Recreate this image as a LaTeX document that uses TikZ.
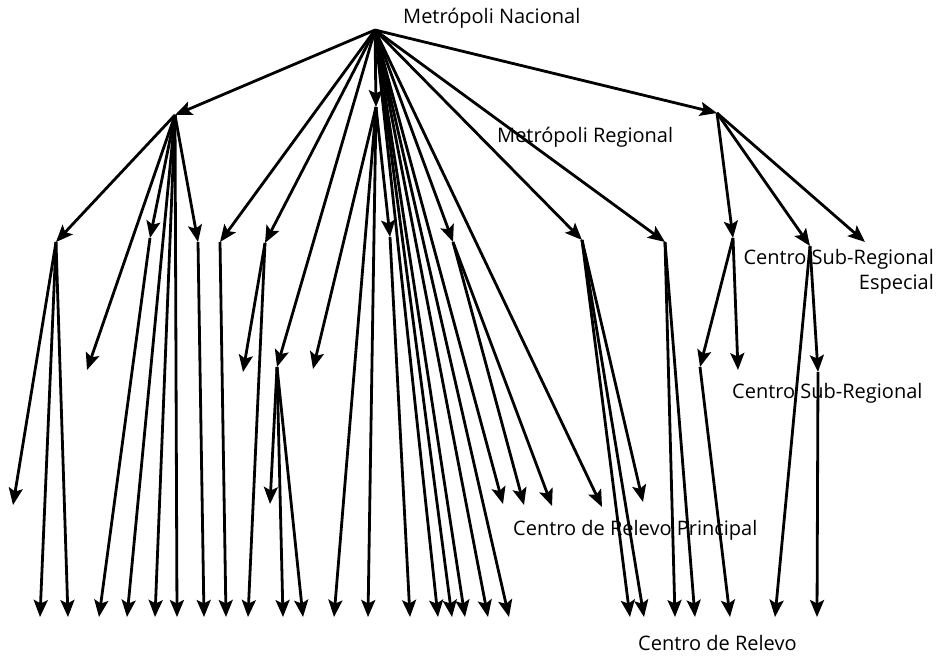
\documentclass[tikz,border=0pt]{standalone}
\usepackage{fontspec}
\setmainfont{Open Sans}
\usetikzlibrary{arrows.meta}
\begin{document}
\begin{tikzpicture}[x=1pt,y=-1pt,
  link/.style={line width=2.8pt, line join=round, -{Stealth[length=17pt,width=14pt,inset=3.5pt]}},
  lbl/.style={font=\fontsize{20}{25}\selectfont, inner sep=0pt, anchor=west}]
\useasboundingbox (0,0) rectangle (944,657);
% level 0 and 1
\coordinate (R) at (375,30);
\coordinate (A) at (175,115);
\coordinate (B) at (376,107);
\coordinate (C) at (717,113);
% level 2
\coordinate (D1) at (56,242);
\coordinate (D2) at (150,238);
\coordinate (D3) at (198,242);
\coordinate (N222) at (220,242);
\coordinate (N265) at (265,243);
\coordinate (N388) at (390,237);
\coordinate (N455) at (453,242);
\coordinate (N578) at (582,240);
\coordinate (N663) at (665,242);
\coordinate (N733) at (733,238);
\coordinate (N808) at (810,246);
\coordinate (S865) at (865,242);
% level 3 (sub-regional)
\coordinate (S87) at (87,370);
\coordinate (N278) at (277,367);
\coordinate (S243) at (243,372);
\coordinate (S315) at (313,369);
\coordinate (N700) at (700,367);
\coordinate (S738) at (738,370);
\coordinate (N818) at (818,372);
% relevo principal
\coordinate (P13) at (13,505);
\coordinate (P270) at (270,504);
\coordinate (P503) at (503,504);
\coordinate (P524) at (524,505);
\coordinate (P552) at (552,506);
\coordinate (P602) at (602,507);
\coordinate (P643) at (643,502);
% relevo
\foreach \x in {40,68,99,127,155,177,204,226,248,283,303,334,368,410,438,452,465,488,509,630,644,675,695,730,775,817}
  \coordinate (L\x) at (\x,617);
% connectors
\foreach \p/\c in {R/A,R/B,R/C,R/N222,R/N265,R/N278,R/N455,R/N578,R/N663,
  R/L438,R/L452,R/L465,R/L488,R/L509,R/P503,R/P602,
  B/N388,B/S315,B/L334,B/L368,
  A/D1,A/D2,A/D3,A/S87,A/L127,A/L155,A/L177,
  D1/P13,D1/L40,D1/L68,D2/L99,D3/L204,N222/L226,
  N265/S243,N265/L248,N278/P270,N278/L283,N278/L303,
  N388/L410,N455/P524,N455/P552,
  N578/P643,N578/L630,N578/L644,N663/L675,N663/L695,
  C/N733,C/N808,C/S865,N733/N700,N733/S738,N700/L730,
  N808/L775,N808/N818,N818/L817}
  \draw[link] (\p) -- (\c);
% labels
\node[lbl] (tNac) at (403,18) {Metrópoli Nacional};
\node[lbl] (tReg) at (497,137) {Metrópoli Regional};
\node[lbl, align=right, anchor=north east] (tEsp) at (934,249) {Centro Sub-Regional\\Especial};
\node[lbl] (tSub) at (732,393) {Centro Sub-Regional};
\node[lbl] (tPri) at (513,530) {Centro de Relevo Principal};
\node[lbl] (tRel) at (638,643) {Centro de Relevo};
\end{tikzpicture}
\end{document}
